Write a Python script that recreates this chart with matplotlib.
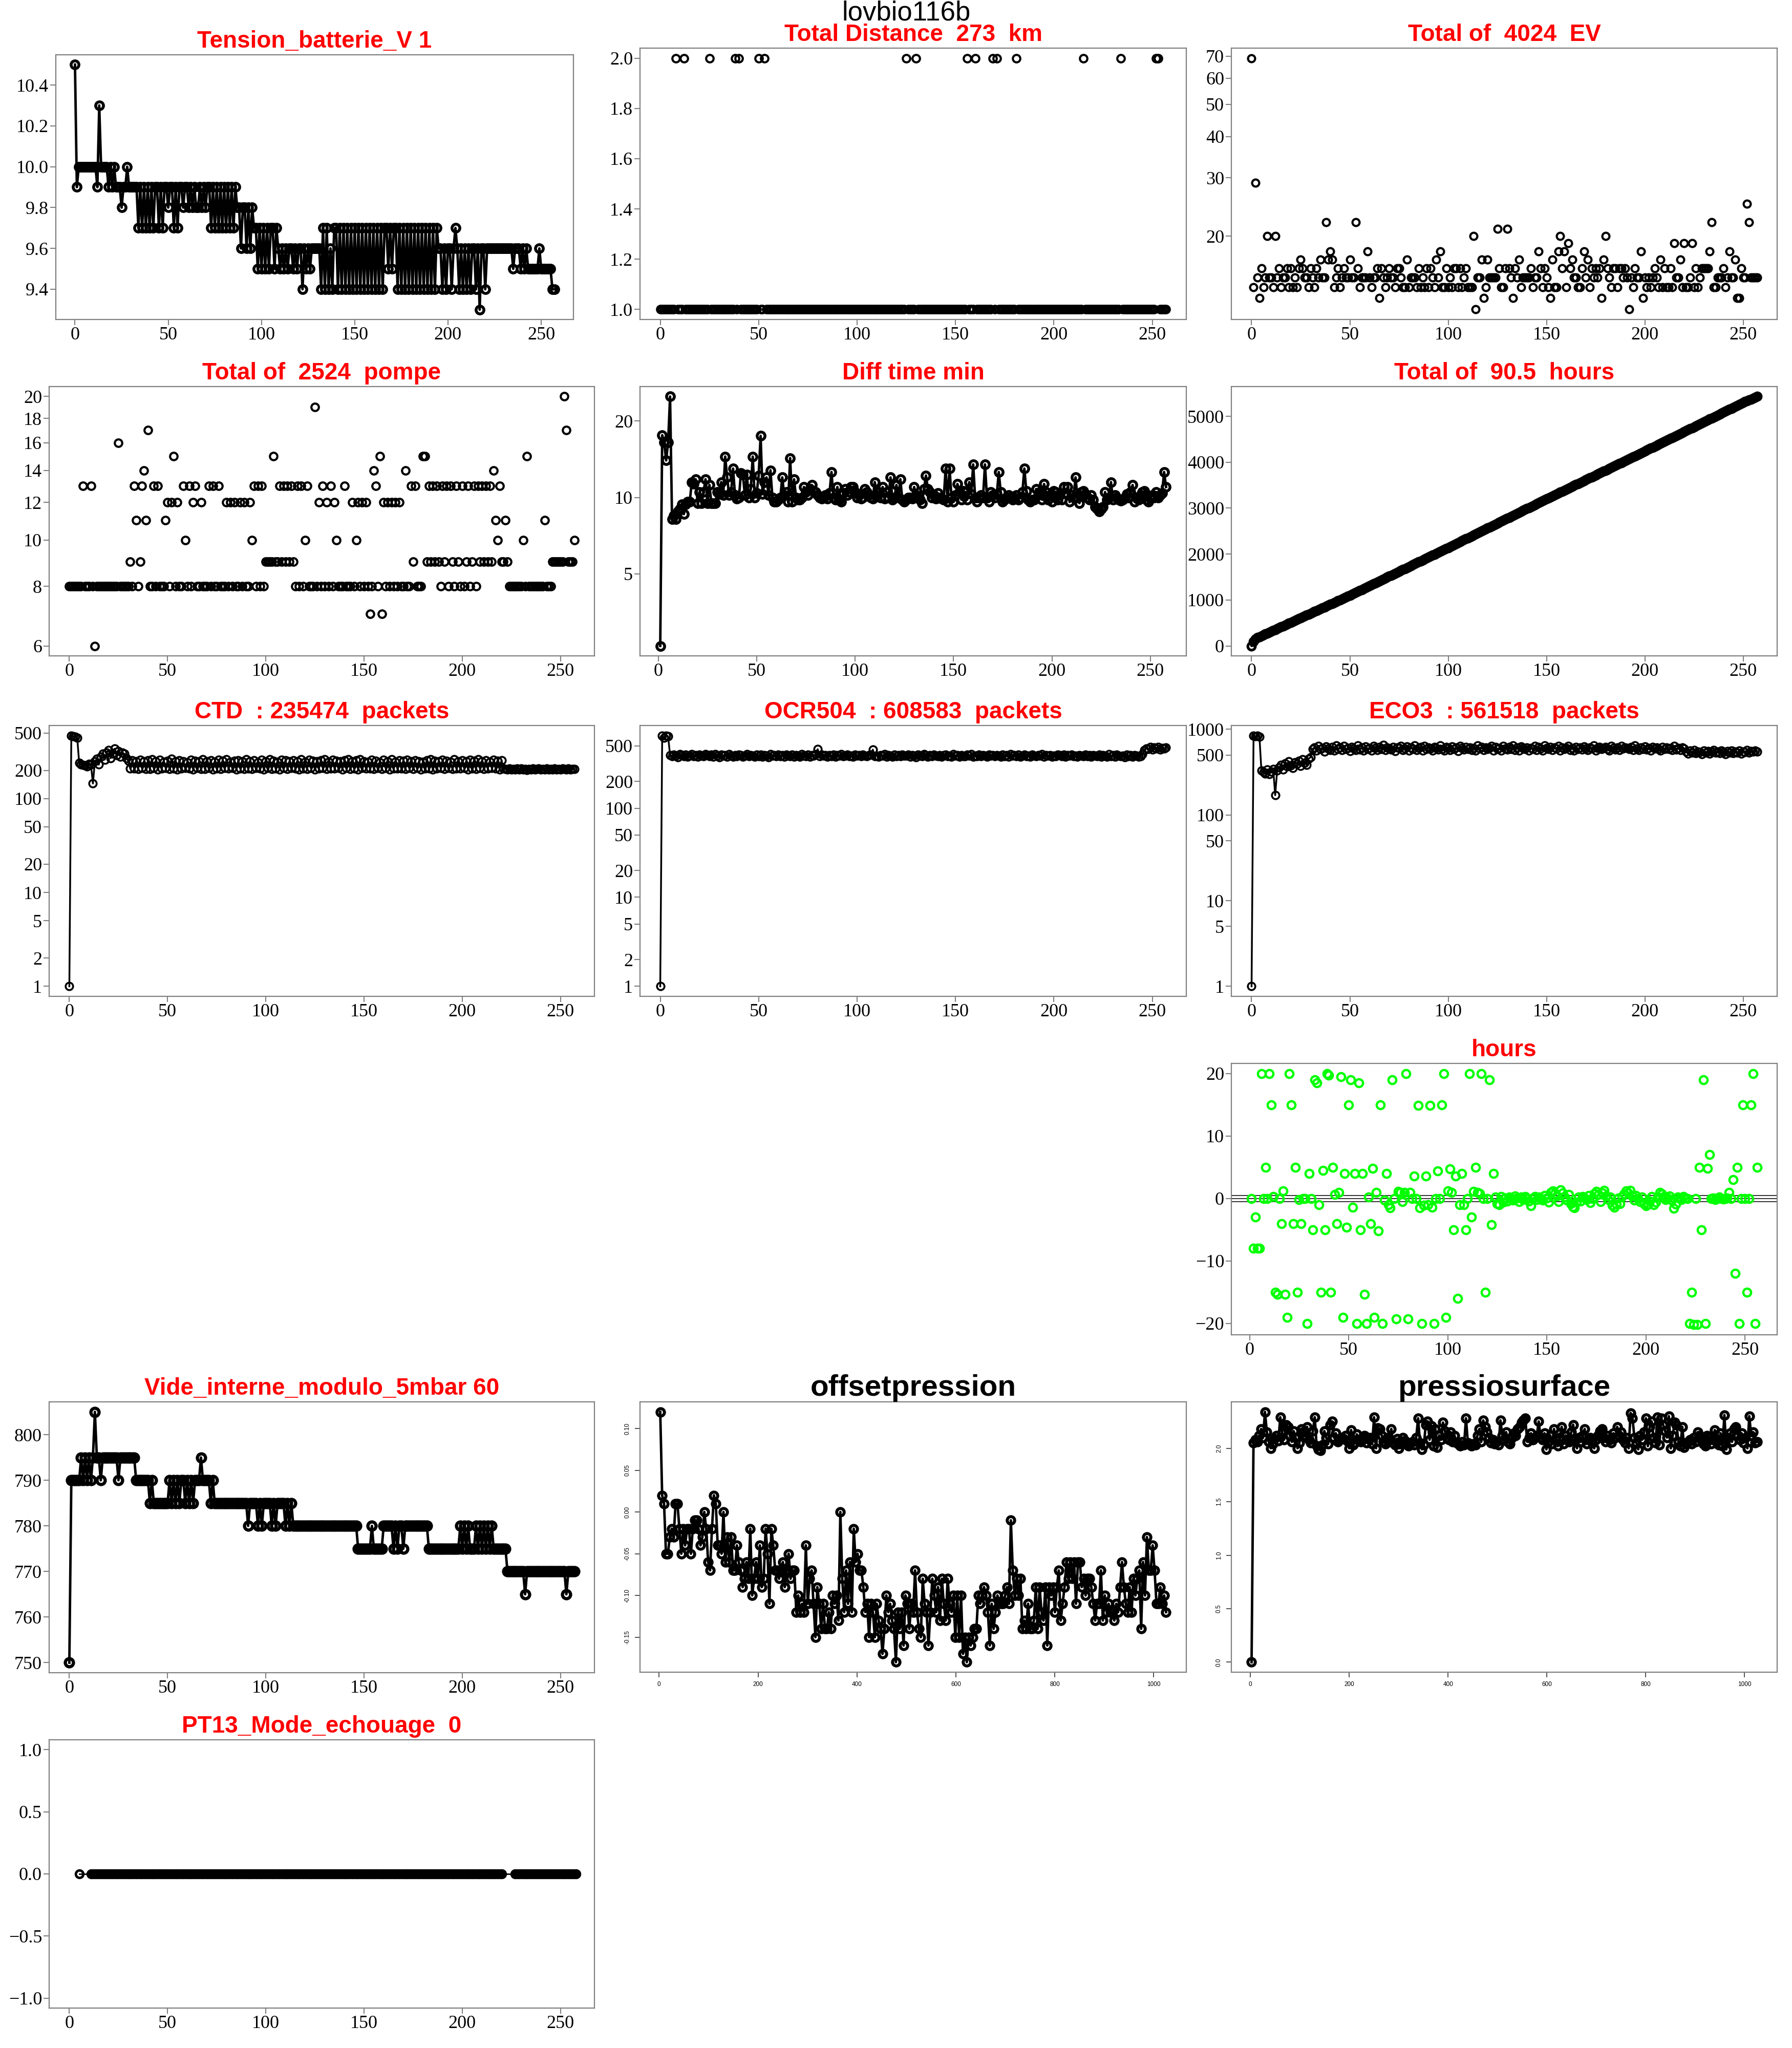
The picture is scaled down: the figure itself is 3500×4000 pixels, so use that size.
import numpy as np
import matplotlib
matplotlib.use("Agg")
import matplotlib.pyplot as plt

plt.rcParams['font.family'] = ['Liberation Serif', 'DejaVu Serif']

# ---------------- data ----------------
tension_v = [
    10.5, 9.9, 10.0, 10.0, 10.0, 10.0, 10.0, 10.0, 10.0, 10.0,
    10.0, 10.0, 9.9, 10.3, 10.0, 10.0, 10.0, 10.0, 9.9, 10.0,
    9.9, 10.0, 9.9, 9.9, 9.9, 9.8, 9.9, 9.9, 10.0, 9.9,
    9.9, 9.9, 9.9, 9.9, 9.7, 9.9, 9.7, 9.9, 9.7, 9.9,
    9.7, 9.9, 9.7, 9.9, 9.9, 9.7, 9.9, 9.7, 9.9, 9.9,
    9.8, 9.9, 9.9, 9.7, 9.9, 9.7, 9.9, 9.9, 9.8, 9.9,
    9.9, 9.8, 9.9, 9.8, 9.9, 9.8, 9.8, 9.9, 9.8, 9.9,
    9.8, 9.9, 9.9, 9.7, 9.9, 9.7, 9.9, 9.7, 9.9, 9.7,
    9.9, 9.7, 9.9, 9.7, 9.9, 9.7, 9.9, 9.8, 9.8, 9.6,
    9.8, 9.8, 9.6, 9.8, 9.6, 9.8, 9.7, 9.7, 9.5, 9.7,
    9.5, 9.7, 9.5, 9.7, 9.5, 9.7, 9.7, 9.5, 9.7, 9.6,
    9.5, 9.6, 9.5, 9.6, 9.5, 9.6, 9.6, 9.5, 9.6, 9.5,
    9.6, 9.6, 9.4, 9.6, 9.5, 9.6, 9.5, 9.6, 9.6, 9.6,
    9.6, 9.6, 9.4, 9.7, 9.4, 9.7, 9.4, 9.6, 9.4, 9.7,
    9.7, 9.4, 9.7, 9.4, 9.7, 9.4, 9.7, 9.4, 9.7, 9.4,
    9.7, 9.4, 9.7, 9.4, 9.7, 9.4, 9.7, 9.4, 9.7, 9.4,
    9.7, 9.4, 9.7, 9.4, 9.7, 9.4, 9.7, 9.7, 9.5, 9.7,
    9.5, 9.7, 9.7, 9.4, 9.7, 9.4, 9.7, 9.4, 9.7, 9.4,
    9.7, 9.4, 9.7, 9.4, 9.7, 9.4, 9.7, 9.4, 9.7, 9.4,
    9.7, 9.4, 9.7, 9.4, 9.7, 9.6, 9.6, 9.4, 9.6, 9.4,
    9.6, 9.6, 9.4, 9.6, 9.7, 9.6, 9.4, 9.6, 9.4, 9.6,
    9.4, 9.6, 9.4, 9.6, 9.6, 9.4, 9.6, 9.3, 9.6, 9.6,
    9.4, 9.6, 9.6, 9.6, 9.6, 9.6, 9.6, 9.6, 9.6, 9.6,
    9.6, 9.6, 9.6, 9.6, 9.6, 9.5, 9.6, 9.6, 9.6, 9.5,
    9.6, 9.5, 9.6, 9.5, 9.5, 9.5, 9.5, 9.5, 9.5, 9.6,
    9.5, 9.5, 9.5, 9.5, 9.5, 9.5, 9.4, 9.4]

distance_km = [
    1, 1, 1, 1, 1, 1, 1, 1, 2, 1, 1, 1, 2, 1, 1, 1, 1, 1, 1, 1, 1, 1, 1, 1, 1, 2, 1, 1, 1, 1,
    1, 1, 1, 1, 1, 1, 1, 1, 2, 1, 2, 1, 1, 1, 1, 1, 1, 1, 1, 1, 2, 1, 1, 2, 1, 1, 1, 1, 1, 1,
    1, 1, 1, 1, 1, 1, 1, 1, 1, 1, 1, 1, 1, 1, 1, 1, 1, 1, 1, 1, 1, 1, 1, 1, 1, 1, 1, 1, 1, 1,
    1, 1, 1, 1, 1, 1, 1, 1, 1, 1, 1, 1, 1, 1, 1, 1, 1, 1, 1, 1, 1, 1, 1, 1, 1, 1, 1, 1, 1, 1,
    1, 1, 1, 1, 1, 2, 1, 1, 1, 1, 2, 1, 1, 1, 1, 1, 1, 1, 1, 1, 1, 1, 1, 1, 1, 1, 1, 1, 1, 1,
    1, 1, 1, 1, 1, 1, 2, 1, 1, 1, 2, 1, 1, 1, 1, 1, 1, 1, 1, 2, 1, 2, 1, 1, 1, 1, 1, 1, 1, 1,
    1, 2, 1, 1, 1, 1, 1, 1, 1, 1, 1, 1, 1, 1, 1, 1, 1, 1, 1, 1, 1, 1, 1, 1, 1, 1, 1, 1, 1, 1,
    1, 1, 1, 1, 1, 2, 1, 1, 1, 1, 1, 1, 1, 1, 1, 1, 1, 1, 1, 1, 1, 1, 1, 1, 2, 1, 1, 1, 1, 1,
    1, 1, 1, 1, 1, 1, 1, 1, 1, 1, 1, 1, 2, 2, 1, 1, 1, 1]

ev_count = [
    69, 14, 29, 15, 13, 16, 14, 15, 20, 15,
    15, 14, 20, 15, 16, 14, 15, 15, 16, 14,
    16, 14, 15, 14, 16, 17, 16, 15, 15, 14,
    16, 15, 14, 16, 15, 17, 15, 15, 22, 17,
    18, 17, 14, 15, 16, 14, 15, 16, 15, 15,
    17, 15, 15, 22, 16, 14, 15, 15, 15, 18,
    15, 14, 15, 15, 16, 13, 16, 15, 14, 15,
    16, 15, 15, 14, 16, 16, 15, 14, 14, 17,
    14, 15, 15, 15, 14, 16, 14, 15, 14, 16,
    14, 16, 15, 14, 17, 15, 18, 14, 14, 16,
    14, 15, 14, 16, 16, 14, 16, 14, 15, 16,
    14, 14, 14, 20, 12, 15, 15, 17, 13, 14,
    17, 15, 15, 15, 15, 21, 16, 14, 14, 16,
    21, 16, 15, 13, 16, 15, 17, 14, 15, 15,
    15, 15, 16, 14, 15, 15, 18, 16, 14, 16,
    15, 14, 13, 17, 14, 14, 18, 20, 16, 18,
    14, 19, 16, 17, 15, 15, 14, 14, 16, 18,
    15, 17, 14, 16, 15, 16, 15, 16, 13, 17,
    20, 16, 15, 14, 16, 16, 14, 16, 16, 15,
    16, 15, 12, 15, 14, 16, 15, 15, 18, 13,
    15, 14, 15, 14, 15, 16, 15, 14, 17, 14,
    16, 14, 14, 16, 14, 19, 15, 15, 17, 14,
    19, 14, 14, 15, 19, 14, 16, 14, 15, 16,
    16, 16, 16, 18, 22, 14, 14, 15, 15, 15,
    16, 14, 15, 18, 15, 15, 17, 13, 13, 16,
    15, 15, 25, 22, 15, 15, 15, 15]

pompe_count = [
    8, 8, 8, 8, 8, 8, 8, 13, 8, 8,
    8, 13, 8, 6, 8, 8, 8, 8, 8, 8,
    8, 8, 8, 8, 8, 16, 8, 8, 8, 8,
    8, 9, 8, 13, 11, 8, 9, 13, 14, 11,
    17, 8, 8, 13, 8, 13, 8, 8, 8, 11,
    12, 8, 12, 15, 8, 12, 8, 8, 13, 10,
    8, 13, 8, 12, 13, 8, 8, 12, 8, 8,
    8, 13, 8, 13, 8, 8, 13, 8, 8, 8,
    12, 8, 12, 8, 12, 8, 8, 12, 8, 12,
    8, 8, 12, 10, 13, 8, 13, 8, 13, 8,
    9, 9, 9, 9, 15, 9, 9, 13, 9, 13,
    9, 13, 9, 13, 9, 8, 13, 8, 13, 8,
    10, 13, 8, 8, 8, 19, 8, 12, 8, 13,
    8, 12, 8, 13, 8, 12, 10, 8, 8, 8,
    13, 8, 8, 8, 12, 8, 10, 12, 8, 12,
    8, 12, 8, 7, 8, 14, 13, 8, 15, 7,
    12, 8, 12, 8, 12, 8, 12, 8, 12, 8,
    8, 14, 8, 8, 13, 9, 13, 8, 8, 8,
    15, 15, 9, 13, 9, 13, 9, 13, 9, 8,
    13, 9, 13, 8, 13, 9, 8, 13, 9, 8,
    13, 8, 9, 13, 8, 9, 13, 8, 13, 9,
    13, 9, 13, 9, 13, 9, 14, 11, 10, 13,
    9, 9, 11, 9, 8, 8, 8, 8, 8, 8,
    8, 10, 8, 15, 8, 8, 8, 8, 8, 8,
    8, 8, 11, 8, 8, 8, 9, 9, 9, 9,
    9, 9, 20, 17, 9, 9, 9, 10]

diff_time_min = [
    2.6, 17.6, 16.5, 14.0, 16.5, 25.0, 8.2, 8.5, 8.2, 8.8,
    9.0, 9.4, 8.6, 9.4, 9.6, 9.6, 11.5, 11.3, 11.8, 9.5,
    10.5, 9.5, 10.5, 11.8, 9.5, 11.2, 9.5, 9.5, 9.5, 10.5,
    10.3, 11.5, 10.2, 14.5, 12.0, 10.2, 10.5, 13.0, 10.2, 9.9,
    10.0, 12.5, 12.3, 10.2, 12.3, 10.0, 10.8, 14.5, 10.0, 10.4,
    12.2, 17.5, 10.3, 11.5, 12.0, 10.2, 12.8, 10.0, 9.6, 9.6,
    9.8, 10.0, 12.0, 10.2, 10.5, 9.6, 14.3, 9.6, 11.8, 10.0,
    9.8, 9.8, 10.0, 11.0, 10.5, 10.2, 10.8, 11.2, 10.6, 10.5,
    10.2, 10.0, 9.9, 10.0, 10.2, 9.9, 10.4, 12.6, 10.0, 9.8,
    11.0, 9.8, 9.6, 10.4, 10.8, 10.2, 10.5, 11.0, 11.0, 10.5,
    10.0, 10.2, 9.9, 10.0, 10.8, 10.5, 10.2, 10.0, 9.9, 11.5,
    10.2, 10.5, 10.0, 11.0, 9.9, 10.5, 10.0, 12.0, 9.8, 10.0,
    11.2, 10.0, 11.8, 9.8, 9.6, 9.8, 10.0, 10.0, 9.9, 11.0,
    10.2, 10.0, 9.8, 9.5, 10.8, 12.2, 10.8, 10.5, 10.0, 10.2,
    9.9, 10.4, 10.0, 9.9, 9.8, 13.0, 9.6, 13.0, 10.0, 9.6,
    10.2, 11.3, 10.5, 9.8, 10.6, 10.5, 9.8, 11.5, 10.3, 13.5,
    10.0, 9.6, 10.0, 10.2, 10.0, 13.5, 10.0, 9.6, 10.5, 10.2,
    10.0, 10.3, 12.6, 10.5, 9.6, 9.8, 10.0, 10.2, 10.0, 9.8,
    10.0, 10.2, 9.8, 10.0, 10.5, 13.0, 10.6, 9.8, 9.6, 9.8,
    9.8, 10.8, 10.2, 10.5, 9.8, 11.3, 10.5, 9.8, 10.2, 9.6,
    10.6, 10.5, 9.8, 10.2, 9.8, 11.0, 10.4, 11.0, 9.6, 10.2,
    10.0, 12.0, 10.0, 9.5, 10.5, 10.6, 10.3, 10.0, 9.8, 10.2,
    9.8, 9.2, 9.0, 8.8, 9.0, 9.2, 10.5, 9.8, 10.0, 11.5,
    9.8, 10.2, 10.0, 9.8, 9.7, 9.8, 10.0, 10.3, 10.0, 10.5,
    11.2, 9.6, 10.0, 9.8, 10.2, 10.5, 10.6, 9.8, 9.6, 10.0,
    10.2, 10.0, 10.5, 10.0, 10.2, 10.4, 12.6, 11.0]

total_minutes = [
    0, 100, 150, 180, 200, 219, 239, 258, 278, 298,
    317, 337, 356, 376, 396, 415, 435, 454, 474, 494,
    513, 533, 552, 572, 592, 611, 631, 650, 670, 690,
    709, 729, 748, 768, 788, 807, 827, 846, 866, 886,
    905, 925, 944, 964, 984, 1003, 1023, 1042, 1062, 1082,
    1101, 1122, 1143, 1163, 1184, 1205, 1226, 1247, 1267, 1288,
    1309, 1330, 1351, 1371, 1392, 1413, 1434, 1455, 1475, 1496,
    1517, 1538, 1559, 1579, 1600, 1621, 1642, 1663, 1683, 1704,
    1725, 1746, 1767, 1787, 1808, 1829, 1850, 1871, 1891, 1912,
    1933, 1954, 1975, 1995, 2016, 2037, 2058, 2079, 2099, 2120,
    2141, 2162, 2183, 2205, 2226, 2247, 2268, 2289, 2311, 2332,
    2353, 2374, 2395, 2417, 2438, 2459, 2480, 2501, 2523, 2544,
    2565, 2586, 2607, 2629, 2650, 2671, 2692, 2713, 2735, 2756,
    2777, 2798, 2819, 2841, 2862, 2883, 2904, 2925, 2947, 2968,
    2989, 3010, 3031, 3053, 3074, 3095, 3116, 3137, 3159, 3180,
    3201, 3222, 3243, 3263, 3284, 3305, 3326, 3347, 3367, 3388,
    3409, 3430, 3451, 3471, 3492, 3513, 3534, 3555, 3575, 3596,
    3617, 3638, 3659, 3679, 3700, 3721, 3742, 3763, 3783, 3804,
    3825, 3846, 3867, 3887, 3908, 3929, 3950, 3971, 3991, 4012,
    4033, 4054, 4075, 4095, 4116, 4137, 4158, 4179, 4199, 4220,
    4241, 4262, 4283, 4305, 4326, 4347, 4368, 4389, 4411, 4432,
    4453, 4474, 4495, 4517, 4538, 4559, 4580, 4601, 4623, 4644,
    4665, 4686, 4707, 4729, 4750, 4771, 4792, 4813, 4835, 4856,
    4877, 4898, 4919, 4941, 4962, 4983, 5004, 5025, 5047, 5068,
    5089, 5110, 5131, 5153, 5174, 5195, 5216, 5237, 5259, 5280,
    5301, 5320, 5338, 5357, 5375, 5394, 5412, 5431]

ctd_packets = [
    1, 470, 460, 455, 445, 240, 232, 228, 225, 220,
    235, 230, 145, 250, 265, 230, 280, 300, 260, 310,
    330, 270, 300, 340, 290, 320, 280, 310, 300, 270,
    252, 208, 255, 210, 250, 207, 258, 212, 248, 206,
    255, 207, 262, 211, 250, 205, 258, 209, 246, 213,
    252, 206, 265, 210, 249, 204, 257, 208, 251, 212,
    244, 209, 260, 205, 253, 211, 248, 207, 263, 206,
    250, 213, 256, 204, 247, 210, 259, 206, 254, 212,
    261, 208, 245, 211, 252, 205, 257, 209, 249, 207,
    264, 210, 251, 206, 255, 212, 243, 208, 258, 204,
    249, 211, 262, 207, 253, 209, 246, 205, 260, 213,
    255, 206, 248, 212, 257, 208, 251, 204, 263, 210,
    247, 207, 259, 211, 254, 205, 250, 209, 256, 212,
    262, 206, 245, 210, 258, 208, 252, 213, 249, 205,
    256, 211, 264, 207, 248, 209, 255, 204, 261, 212,
    251, 208, 246, 210, 259, 206, 253, 211, 244, 207,
    258, 213, 250, 205, 262, 209, 247, 208, 255, 210,
    253, 206, 260, 212, 249, 207, 256, 211, 251, 204,
    245, 210, 257, 208, 263, 205, 252, 209, 248, 213,
    259, 207, 254, 211, 246, 206, 261, 210, 250, 208,
    255, 212, 248, 205, 258, 209, 253, 207, 264, 211,
    250, 206, 257, 210, 247, 213, 259, 208, 252, 205,
    256, 209, 207, 205, 209, 204, 206, 203, 208, 205,
    210, 204, 206, 202, 207, 205, 209, 204, 206, 208,
    203, 207, 205, 210, 204, 206, 203, 208, 205, 207,
    204, 209, 206, 205, 208, 204, 207, 206]

ocr_packets = [
    1, 650, 620, 655, 640,
    395, 382, 401, 388, 376, 405, 392, 384, 398, 379,
    390, 403, 386, 395, 378, 400, 389, 382, 407, 393,
    385, 397, 380, 402, 391, 376, 399, 387, 394, 381,
    404, 389, 377, 396, 385, 400, 392, 379, 388, 403,
    383, 395, 390, 378, 401, 386, 397, 380, 393, 389,
    376, 404, 388, 395, 382, 399, 384, 392, 378, 401,
    390, 386, 397, 381, 394, 388, 379, 402, 391, 385,
    398, 377, 393, 389, 402, 460, 384, 400, 387, 395,
    380, 392, 386, 399, 378, 394, 388, 403, 383, 391,
    397, 385, 390, 379, 401, 387, 395, 382, 398, 389,
    384, 393, 400, 455, 386, 391, 378, 396, 388, 402,
    381, 395, 389, 377, 399, 386, 392, 383, 397, 390,
    387, 401, 380, 394, 388, 376, 398, 391, 385, 403,
    392, 379, 396, 384, 400, 389, 382, 395, 378, 393,
    399, 386, 390, 381, 404, 388, 394, 377, 392, 385,
    383, 397, 389, 402, 379, 391, 386, 398, 384, 395,
    390, 378, 401, 387, 393, 382, 396, 389, 380, 399,
    386, 394, 379, 403, 388, 392, 384, 397, 381, 390,
    398, 385, 391, 377, 400, 389, 383, 395, 387, 402,
    381, 393, 388, 396, 379, 390, 385, 401, 392, 384,
    397, 380, 394, 387, 399, 382, 391, 378, 395, 388,
    386, 400, 383, 392, 377, 396, 389, 384, 398, 381,
    393, 388, 379, 402, 385, 394, 380, 397, 390, 383,
    391, 376, 399, 386, 393, 381, 395, 388, 378, 384,
    405,
    448, 470, 462, 485, 455, 478, 466, 490, 458, 474, 468, 482]

eco_packets = [
    1, 840, 825, 845, 815,
    330, 315, 305, 340, 300, 320, 345, 170, 330, 360, 385, 340, 400,
    370, 420, 380, 355, 410, 395, 430, 372, 445, 405, 385, 455, 470,
    590, 615, 560, 640, 585, 605, 550, 630, 595, 575,
    620, 560, 645, 590, 610, 570, 635, 585, 600, 555,
    625, 595, 570, 650, 580, 610, 565, 630, 590, 605,
    560, 640, 600, 575, 620, 585, 655, 570, 610, 595,
    580, 625, 555, 615, 600, 640, 575, 595, 630, 565,
    610, 590, 645, 570, 600, 620, 560, 635, 585, 615,
    595, 565, 625, 605, 580, 650, 590, 560, 620, 600,
    570, 630, 590, 615, 555, 640, 600, 580, 625, 585,
    615, 575, 605, 560, 645, 595, 620, 570, 610, 590,
    600, 640, 565, 625, 585, 605, 560, 635, 595, 580,
    620, 590, 650, 575, 610, 565, 630, 600, 585, 615,
    560, 605, 590, 640, 575, 620, 595, 565, 645, 600,
    585, 625, 570, 610, 595, 635, 560, 615, 590, 605,
    640, 575, 600, 565, 625, 590, 610, 580, 630, 595,
    570, 615, 595, 645, 560, 605, 625, 585, 600, 620,
    590, 560, 635, 600, 580, 615, 570, 640, 595, 610,
    605, 585, 620, 570, 650, 595, 575, 610, 590, 630,
    580, 600, 565, 625, 595, 615, 590, 560, 620, 585,
    610, 590, 600, 575, 640, 580, 605, 570, 615, 595,
    545, 520, 560, 530, 575, 525, 550, 540, 515, 565,
    535, 555, 520, 545, 570, 530, 550, 525, 560, 540,
    515, 555, 535, 565, 525, 545, 530, 560, 520, 550,
    540, 570, 530, 555, 545, 560, 550]

hours_diff = [
    0, -8, -3, -8, -8, 20, 0, 5, 0, 20,
    15, 0.3, -15, -15.3, 0, -4, 1.2, -15.3, -19, 20,
    15, -4, 5, -15, -0.2, -4, 0, 0, -20, 4,
    0, -5, 19, 18.5, -1, -15, 4.5, -5, 20, 19.7,
    -15, 5, 0.6, -4, 1, 19.5, -19, 4, -4.6, 15,
    19, -1.4, 4, -20, 18.5, -5, 4, -15.3, -20, 0.2,
    -4, 4.8, -19, 1, -5.2, 15, -20, -0.3, 4, -1,
    -1.5, 19, 0, -19.3, 1.1, 1, -0.5, 1, 20, -19.3,
    1, 0, 3.6, 0, 14.9, -1.5, -20, -1.1, 3.6, -1,
    14.9, -1.4, -20, 0, 4.4, 0, 15, 20, -19, 1.2,
    4.7, 1, -5, 3.6, -16, -1, 4, -1, -5, 0,
    20, -3, 1.1, 5, 1, 0.8, 20, 0, -15, 0,
    19, -4.2, 4,
    0.2, -0.8, -1.0, 0.3, -0.6, 0.1, -0.4, 0.2, 0.0, -0.3,
    0.4, 0.1, -0.5, 0.2, -0.2, 0.3, 0.0, -0.4, -1.2, 0.1,
    0.3, -0.2, 0.2, 0.0, -0.3, 0.5, 0.1, -0.6, 1.0, 1.2,
    0.8, 0.4, -0.5, 1.4, 0.9, 0.2, -0.3, 0.6, -0.8, -1.3,
    -1.5, -0.6, 0.2, -0.4, 0.3, 0.1, -0.2, 0.5, -0.7, 0.0,
    0.8, 1.1, 0.6, -0.5, 0.9, 1.3, 0.4, -0.2, 0.2, -1.1,
    -1.4, -0.9, 0.1, -0.8, 0.3, 0.7, 1.2, 0.9, 1.3, 0.4,
    -0.3, 0.5, 0.0, -0.5, 0.2, -0.8, -1.2, -0.9, -0.4, 0.3,
    -1.0, -0.6, 0.2, 1.0, 0.7, 0.3, -0.2, 0.1, 0.4, -0.3,
    -1.6, -0.9, 0.2, 0.0, -0.2, 0.3, 0.1,
    0, -20, -15, -20.2, 0, -20.2, 5, -5, 19, -20,
    4.8, 7, 0, 0.1, -0.2, 0, 0.2, 0, -0.1, 0,
    0.1, 1, 0, 3, -12, 5, -20, 0, 15, 0,
    -15, 0, 15, 20, -20, 5]

vide_mbar = [
    750, 790, 790, 790, 790, 790, 795, 790, 795, 790,
    795, 790, 795, 805, 795, 795, 790, 795, 795, 795,
    795, 795, 795, 795, 795, 790, 795, 795, 795, 795,
    795, 795, 795, 795, 790, 790, 790, 790, 790, 790,
    790, 785, 790, 785, 785, 785, 785, 785, 785, 785,
    785, 790, 785, 790, 785, 790, 785, 790, 790, 785,
    790, 785, 790, 785, 790, 790, 790, 795, 790, 790,
    790, 790, 785, 790, 785, 785, 785, 785, 785, 785,
    785, 785, 785, 785, 785, 785, 785, 785, 785, 785,
    785, 780, 785, 785, 785, 785, 780, 785, 780, 785,
    785, 785, 785, 780, 785, 780, 785, 785, 785, 785,
    780, 785, 780, 785, 780, 780, 780, 780, 780, 780,
    780, 780, 780, 780, 780, 780, 780, 780, 780, 780,
    780, 780, 780, 780, 780, 780, 780, 780, 780, 780,
    780, 780, 780, 780, 780, 780, 780, 775, 775, 775,
    775, 775, 775, 775, 780, 775, 775, 775, 775, 775,
    780, 780, 780, 780, 780, 775, 780, 775, 780, 780,
    775, 780, 780, 780, 780, 780, 780, 780, 780, 780,
    780, 780, 780, 775, 775, 775, 775, 775, 775, 775,
    775, 775, 775, 775, 775, 775, 775, 775, 775, 780,
    775, 780, 775, 780, 775, 775, 775, 780, 775, 780,
    775, 780, 775, 780, 775, 780, 775, 775, 775, 775,
    775, 775, 775, 770, 770, 770, 770, 770, 770, 770,
    770, 770, 765, 770, 770, 770, 770, 770, 770, 770,
    770, 770, 770, 770, 770, 770, 770, 770, 770, 770,
    770, 770, 770, 765, 770, 770, 770, 770]

offset_pression = [
    0.12, 0.02, 0.01, -0.05, -0.05, -0.03, -0.02, -0.03, 0.01, 0.01,
    -0.02, -0.05, -0.02, -0.04, -0.02, -0.02, -0.05, -0.02, -0.01, -0.01,
    -0.02, -0.04, -0.03, 0.00, -0.02, -0.06, -0.07, -0.02, 0.02, 0.01,
    -0.04, -0.04, -0.05, 0.00, -0.06, -0.03, -0.06, -0.03, -0.07, -0.07,
    -0.04, -0.06, -0.07, -0.09, -0.08, -0.06, -0.08, -0.02, -0.10, -0.08,
    -0.06, -0.08, -0.04, -0.09, -0.08, -0.02, -0.05, -0.11, -0.02, -0.04,
    -0.07, -0.07, -0.08, -0.07, -0.06, -0.09, -0.07, -0.05, -0.08, -0.07,
    -0.07, -0.12, -0.10, -0.12, -0.11, -0.12, -0.04, -0.11, -0.08, -0.07,
    -0.11, -0.15, -0.09, -0.11, -0.14, -0.11, -0.14, -0.14, -0.12, -0.14,
    -0.10, -0.11, -0.10, -0.13, 0.00, -0.08, -0.12, -0.07, -0.11, -0.06,
    -0.12, -0.02, -0.06, -0.05, -0.07, -0.07, -0.09, -0.12, -0.11, -0.15,
    -0.11, -0.12, -0.15, -0.11, -0.13, -0.14, -0.17, -0.14, -0.10, -0.12,
    -0.11, -0.13, -0.14, -0.18, -0.12, -0.14, -0.12, -0.16, -0.10, -0.11,
    -0.14, -0.11, -0.12, -0.07, -0.12, -0.14, -0.15, -0.08, -0.11, -0.12,
    -0.16, -0.12, -0.08, -0.10, -0.12, -0.09, -0.13, -0.08, -0.11, -0.13,
    -0.08, -0.11, -0.12, -0.10, -0.15, -0.10, -0.15, -0.10, -0.17, -0.15,
    -0.18, -0.15, -0.16, -0.15, -0.14, -0.14, -0.10, -0.11, -0.10, -0.09,
    -0.10, -0.12, -0.16, -0.11, -0.14, -0.12, -0.10, -0.11, -0.11, -0.11,
    -0.10, -0.09, -0.11, -0.01, -0.07, -0.10, -0.08, -0.10, -0.08, -0.14,
    -0.13, -0.14, -0.11, -0.14, -0.14, -0.13, -0.09, -0.14, -0.09, -0.12,
    -0.13, -0.09, -0.16, -0.09, -0.10, -0.09, -0.12, -0.09, -0.07, -0.13,
    -0.11, -0.09, -0.06, -0.08, -0.06, -0.08, -0.06, -0.11, -0.06, -0.06,
    -0.09, -0.08, -0.10, -0.08, -0.08, -0.09, -0.11, -0.13, -0.11, -0.11,
    -0.07, -0.13, -0.10, -0.12, -0.11, -0.12, -0.12, -0.13, -0.11, -0.12,
    -0.09, -0.06, -0.09, -0.11, -0.12, -0.09, -0.12, -0.08, -0.10, -0.08,
    -0.07, -0.14, -0.06, -0.10, -0.03, -0.07, -0.07, -0.04, -0.07, -0.11,
    -0.11, -0.09, -0.11, -0.10, -0.12]

pressio_surface = [
    0.00, 2.05, 2.08, 2.06, 2.12, 2.18, 2.10, 2.34, 2.15, 2.06,
    2.00, 2.04, 2.09, 2.12, 2.07, 2.29, 2.14, 2.08, 2.22, 2.20,
    2.12, 2.06, 2.16, 2.10, 2.00, 2.05, 2.18, 2.15, 2.12, 2.20,
    2.08, 2.05, 2.16, 2.29, 2.02, 1.99, 1.98, 2.03, 2.16, 2.10,
    2.04, 2.22, 2.25, 2.10, 2.14, 2.06, 2.08, 2.10, 2.09, 2.12,
    2.07, 2.00, 2.17, 2.03, 2.05, 2.13, 2.08, 2.06, 2.10, 2.12,
    2.05, 2.09, 2.10, 2.04, 2.29, 2.00, 2.19, 2.18, 2.12, 2.06,
    2.04, 2.10, 2.08, 2.18, 2.05, 2.03, 2.09, 2.00, 2.04, 2.10,
    2.07, 2.04, 2.02, 2.05, 2.06, 2.03, 2.10, 2.28, 2.05, 1.99,
    2.03, 2.22, 2.25, 2.08, 2.21, 2.02, 2.18, 2.01, 2.12, 2.08,
    2.24, 2.16, 2.10, 2.08, 2.15, 2.06, 2.12, 2.05, 2.04, 2.02,
    2.06, 2.03, 2.28, 2.05, 2.04, 2.02, 2.04, 2.03, 2.12, 2.18,
    2.06, 2.26, 2.20, 2.15, 2.10, 2.05, 2.08, 2.04, 2.06, 2.03,
    2.26, 2.12, 2.08, 2.15, 2.06, 2.04, 2.10, 2.14, 2.12, 2.18,
    2.20, 2.24, 2.26, 2.28, 2.06, 2.10, 2.14, 2.08, 2.10, 2.12,
    2.25, 2.10, 2.08, 2.14, 1.99, 2.06, 2.12, 2.04, 2.18, 2.08,
    2.02, 2.10, 2.20, 2.04, 2.12, 2.08, 2.06, 2.15, 2.22, 2.08,
    2.00, 2.10, 2.06, 2.12, 2.18, 2.04, 2.08, 2.10, 2.05, 2.00,
    2.08, 2.12, 2.16, 2.18, 2.10, 2.06, 2.12, 2.08, 2.05, 2.14,
    2.10, 2.20, 2.12, 2.15, 2.08, 2.05, 2.10, 2.00, 2.33, 2.28,
    2.10, 2.05, 1.99, 2.12, 2.08, 2.15, 2.28, 2.02, 2.20, 2.25,
    2.10, 2.05, 2.29, 2.03, 2.28, 2.22, 2.16, 2.10, 2.30, 2.00,
    2.12, 2.24, 2.22, 2.06, 2.02, 2.20, 2.01, 2.04, 2.06, 2.08,
    2.04, 2.10, 2.06, 2.15, 2.12, 2.08, 2.04, 2.02, 2.12, 2.10,
    2.04, 2.08, 2.17, 2.06, 2.03, 2.14, 2.02, 2.31, 1.99, 2.10,
    2.14, 2.06, 2.18, 2.20, 2.12, 2.08, 2.14, 2.05, 2.10, 2.00,
    2.30, 2.12, 2.15, 2.05, 2.06]

pt13_mode = [
    0, 0, 0, 0, 0, 0, 0, 0, 0, 0, 0, 0, 0, 0, 0, 0, 0, 0, 0, 0, 0, 0, 0, 0, 0, 0, 0, 0, 0, 0,
    0, 0, 0, 0, 0, 0, 0, 0, 0, 0, 0, 0, 0, 0, 0, 0, 0, 0, 0, 0, 0, 0, 0, 0, 0, 0, 0, 0, 0, 0,
    0, 0, 0, 0, 0, 0, 0, 0, 0, 0, 0, 0, 0, 0, 0, 0, 0, 0, 0, 0, 0, 0, 0, 0, 0, 0, 0, 0, 0, 0,
    0, 0, 0, 0, 0, 0, 0, 0, 0, 0, 0, 0, 0, 0, 0, 0, 0, 0, 0, 0, 0, 0, 0, 0, 0, 0, 0, 0, 0, 0,
    0, 0, 0, 0, 0, 0, 0, 0, 0, 0, 0, 0, 0, 0, 0, 0, 0, 0, 0, 0, 0, 0, 0, 0, 0, 0, 0, 0, 0, 0,
    0, 0, 0, 0, 0, 0, 0, 0, 0, 0, 0, 0, 0, 0, 0, 0, 0, 0, 0, 0, 0, 0, 0, 0, 0, 0, 0, 0, 0, 0,
    0, 0, 0, 0, 0, 0, 0, 0, 0, 0, 0, 0, 0, 0, 0, 0, 0, 0, 0, 0, 0, 0, 0, 0, 0, 0, 0, 0, 0, 0,
    0, 0, 0, 0, 0, 0, 0, 0, 0, 0, 0, 0, 0, 0, 0, 0, 0, 0, 0, 0, 0, 0, 0, 0, 0, 0, 0, 0, 0, 0,
    0, 0, 0]

# cycle numbers used as x
cycle = np.arange(len(tension_v))
diff_cycle = np.arange(1, len(diff_time_min) + 1)
hours_cycle = np.arange(1, len(hours_diff) + 1)
pt13_cycle = np.r_[5, np.arange(11, 221), np.arange(227, 259)]
press_x = np.linspace(2.3, 1025, len(offset_pression))

X_TICKS = [0, 50, 100, 150, 200, 250]

# ---------------- figure ----------------
W, H = 3500, 4000
fig = plt.figure(figsize=(W / 100, H / 100), dpi=100)


def panel(l, t, r, b):
    return fig.add_axes([l / W, 1 - b / H, (r - l) / W, (b - t) / H])


def rlim(v, log=False):
    # R style range: data range extended by 4% on each side
    v = np.asarray(v, float)
    if log:
        v = np.log10(v)
    lo, hi = v.min(), v.max()
    d = (hi - lo) * 0.04
    lo, hi = lo - d, hi + d
    return (10 ** lo, 10 ** hi) if log else (lo, hi)


def dress(ax, title, x, y, yticks, ylabels=None, xticks=X_TICKS, log=False,
          tcolor="red", small=False, ylim=None):
    if log:
        ax.set_yscale("log")
    ax.set_xticks(xticks)
    ax.set_yticks(yticks)
    ax.minorticks_off()
    ax.set_xticklabels([str(t) for t in xticks])
    ax.set_yticklabels(ylabels if ylabels else [str(t) for t in yticks])
    ax.set_xlim(rlim(x))
    ax.set_ylim(ylim if ylim else rlim(y, log))
    for s in ax.spines.values():
        s.set_color("#808080")
        s.set_linewidth(1.6)
    if small:
        ax.tick_params(length=7, width=1.2, color="#333333", labelsize=8.5, pad=6)
        for lab in ax.get_xticklabels() + ax.get_yticklabels():
            lab.set_family("Liberation Sans")
        for lab in ax.get_yticklabels():
            lab.set_rotation(90)
            lab.set_va("center")
        ax.set_title(title, color=tcolor, fontsize=42, fontweight="bold",
                     family="Liberation Sans", pad=6)
    else:
        ax.tick_params(length=8, width=1.5, color="#808080", labelsize=26, pad=2)
        ax.set_title(title, color=tcolor, fontsize=33, fontweight="bold",
                     family="Liberation Sans", pad=10)


def line_pts(ax, x, y, lw, ms, mew, color="black"):
    ax.plot(x, y, "-o", color=color, lw=lw, ms=ms, mew=mew, mfc="none", mec=color)


def pts(ax, x, y, ms, mew, color="black"):
    ax.plot(x, y, "o", ls="none", ms=ms, mew=mew, mfc="none", mec=color)


fig.text(0.5057, 1.0, "lovbio116b", ha="center", va="top", fontsize=38,
         family="Liberation Sans")

# row 1
ax = panel(109, 107, 1120, 624)
line_pts(ax, cycle, tension_v, 3.5, 11, 4)
dress(ax, "Tension_batterie_V 1", cycle, tension_v, [9.4, 9.6, 9.8, 10.0, 10.2, 10.4],
      ["9.4", "9.6", "9.8", "10.0", "10.2", "10.4"])

ax = panel(1250, 94, 2317, 624)
pts(ax, cycle, distance_km, 10.5, 3)
dress(ax, "Total Distance  273  km", cycle, distance_km, [1.0, 1.2, 1.4, 1.6, 1.8, 2.0],
      ["1.0", "1.2", "1.4", "1.6", "1.8", "2.0"])

ax = panel(2405, 94, 3471, 624)
pts(ax, cycle, ev_count, 10, 3)
dress(ax, "Total of  4024  EV", cycle, ev_count, [20, 30, 40, 50, 60, 70], log=True)

# row 2
ax = panel(96, 755, 1161, 1281)
pts(ax, cycle, pompe_count, 10.5, 3)
dress(ax, "Total of  2524  pompe", cycle, pompe_count, [6, 8, 10, 12, 14, 16, 18, 20], log=True)

ax = panel(1250, 755, 2317, 1281)
line_pts(ax, diff_cycle, diff_time_min, 3.5, 11, 4)
dress(ax, "Diff time min", diff_cycle, diff_time_min, [5, 10, 20], log=True)

ax = panel(2405, 755, 3471, 1281)
line_pts(ax, cycle, total_minutes, 3, 10.5, 3.8)
dress(ax, "Total of  90.5  hours", cycle, total_minutes, [0, 1000, 2000, 3000, 4000, 5000])

# row 3
for (l, r), vals, name, ticks in [
        ((96, 1161), ctd_packets, "CTD  : 235474  packets", [1, 2, 5, 10, 20, 50, 100, 200, 500]),
        ((1250, 2317), ocr_packets, "OCR504  : 608583  packets", [1, 2, 5, 10, 20, 50, 100, 200, 500]),
        ((2405, 3471), eco_packets, "ECO3  : 561518  packets", [1, 5, 10, 50, 100, 500, 1000])]:
    ax = panel(l, 1417, r, 1946)
    xs = np.arange(len(vals))
    line_pts(ax, xs, vals, 2.5, 10.5, 2.6)
    dress(ax, name, xs, vals, ticks, log=True)

# row 4
ax = panel(2405, 2077, 3471, 2607)
for h in (-0.5, 0, 0.5):
    ax.axhline(h, color="#333333", lw=1.4, zorder=1)
pts(ax, hours_cycle, hours_diff, 11, 3.2, color="#00ff00")
dress(ax, "hours", hours_cycle, hours_diff, [-20, -10, 0, 10, 20],
      ["\u221220", "\u221210", "0", "10", "20"])

# row 5
ax = panel(96, 2738, 1161, 3267)
line_pts(ax, cycle, vide_mbar, 3.5, 11.5, 4.5)
dress(ax, "Vide_interne_modulo_5mbar 60", cycle, vide_mbar, [750, 760, 770, 780, 790, 800])

ax = panel(1250, 2738, 2317, 3266)
line_pts(ax, press_x, offset_pression, 3.5, 10.5, 4.2)
dress(ax, "offsetpression", press_x, offset_pression, [-0.15, -0.10, -0.05, 0.00, 0.05, 0.10],
      ["-0.15", "-0.10", "-0.05", "0.00", "0.05", "0.10"],
      xticks=[0, 200, 400, 600, 800, 1000], tcolor="black", small=True)

ax = panel(2405, 2738, 3471, 3266)
line_pts(ax, press_x, pressio_surface, 3.5, 10.5, 4.2)
dress(ax, "pressiosurface", press_x, pressio_surface, [0.0, 0.5, 1.0, 1.5, 2.0],
      ["0.0", "0.5", "1.0", "1.5", "2.0"],
      xticks=[0, 200, 400, 600, 800, 1000], tcolor="black", small=True)

# row 6 (x range follows the full cycle range, like the other panels)
ax = panel(96, 3398, 1161, 3922)
line_pts(ax, pt13_cycle, pt13_mode, 2, 10.5, 3.5)
dress(ax, "PT13_Mode_echouage  0", cycle, pt13_mode, [-1.0, -0.5, 0.0, 0.5, 1.0],
      ["\u22121.0", "\u22120.5", "0.0", "0.5", "1.0"], ylim=rlim([-1, 1]))

fig.savefig("out.png", dpi=100)
